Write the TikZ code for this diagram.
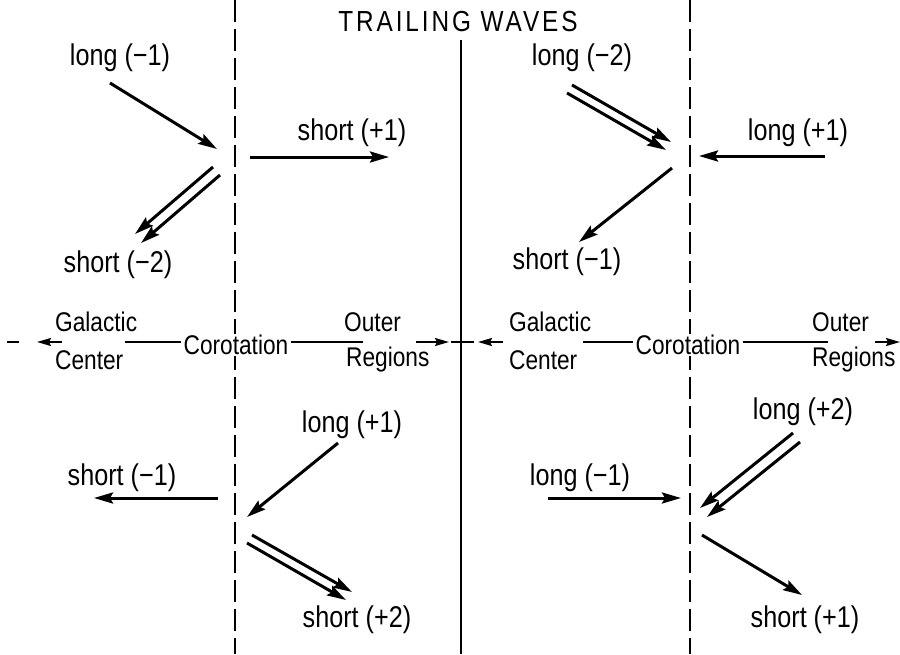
\documentclass[tikz,border=0pt]{standalone}
\usepackage{fontspec}
\setmainfont{Liberation Sans}[FakeStretch=0.84]
\usetikzlibrary{arrows.meta}
\begin{document}
\begin{tikzpicture}[x=1pt,y=-1pt,
  lbl/.style={font=\fontsize{30}{32}\selectfont, inner sep=1pt},
  axl/.style={font=\fontsize{27}{29}\selectfont, inner sep=1pt},
  ttl/.style={font=\fontsize{29}{31}\selectfont\addfontfeature{LetterSpace=10}, inner sep=1pt},
  arr/.style={line width=3pt, -{Stealth[length=19pt,width=11pt,inset=3pt]}},
  axarr/.style={line width=2pt, -{Stealth[length=14pt,width=8pt,inset=2pt]}},
  axline/.style={line width=2pt},
  corot/.style={line width=2pt, dash pattern=on 22pt off 7pt},
  midline/.style={line width=2pt}]
\useasboundingbox (0,0) rectangle (900,654);

% vertical lines
\coordinate (dl1t) at (235,0);   \coordinate (dl1b) at (235,654);
\coordinate (dl2t) at (690,0);   \coordinate (dl2b) at (690,654);
\coordinate (mlt) at (461,40);   \coordinate (mlb) at (461,654);
\draw[corot] (dl1t) -- (dl1b);
\draw[corot] (dl2t) -- (dl2b);
\draw[midline] (mlt) -- (mlb);

% title
\node[ttl] (title) at (458,22) {TRAILING WAVES};

% axis labels
\node[axl, anchor=west] (gal1) at (54,322) {Galactic};
\node[axl, anchor=west] (cen1) at (54,360) {Center};
\node[axl, fill=white, inner xsep=2pt] (cor1) at (236,345) {Corotation};
\node[axl, anchor=west] (out1) at (343,322) {Outer};
\node[axl, anchor=west] (reg1) at (345,360) {Regions};
\node[axl, anchor=west] (gal2) at (508,322) {Galactic};
\node[axl, anchor=west] (cen2) at (508,360) {Center};
\node[axl, fill=white, inner xsep=2pt] (cor2) at (688,345) {Corotation};
\node[axl, anchor=west] (out2) at (811,322) {Outer};
\node[axl, anchor=west] (reg2) at (811,360) {Regions};

% axis lines
\coordinate (a1) at (7,342);   \coordinate (a2) at (19,342);
\coordinate (a3) at (62,342);  \coordinate (a4) at (37,342);
\coordinate (a5) at (125,342); \coordinate (a6) at (cor1.west |- 0,342);
\coordinate (a7) at (cor1.east |- 0,342); \coordinate (a8) at (363,342);
\coordinate (a9) at (416,342); \coordinate (a10) at (449,342);
\coordinate (a11) at (451,342); \coordinate (a12) at (474,342);
\coordinate (a13) at (503,342); \coordinate (a14) at (478,342);
\coordinate (a15) at (583,342); \coordinate (a16) at (cor2.west |- 0,342);
\coordinate (a17) at (cor2.east |- 0,342); \coordinate (a18) at (828,342);
\coordinate (a19) at (875,342); \coordinate (a20) at (900,342);
\draw[axline] (a1) -- (a2);
\draw[axarr] (a3) -- (a4);
\draw[axline] (a5) -- (a6);
\draw[axline] (a7) -- (a8);
\draw[axarr] (a9) -- (a10);
\draw[axline] (a11) -- (a12);
\draw[axarr] (a13) -- (a14);
\draw[axline] (a15) -- (a16);
\draw[axline] (a17) -- (a18);
\draw[axarr] (a19) -- (a20);

% ---------- upper left ----------
\node[lbl] (ul1) at (120,58) {long (−1)};
\node[lbl] (us1) at (352,133) {short (+1)};
\node[lbl] (us2) at (118,265) {short (−2)};
\coordinate (p1) at (110,83);  \coordinate (p2) at (217,149);
\coordinate (p3) at (250,157); \coordinate (p4) at (389,157);
\coordinate (p5) at (213,167); \coordinate (p6) at (135,234);
\coordinate (p7) at (220,175); \coordinate (p8) at (141,243);
\draw[arr] (p1) -- (p2);
\draw[arr] (p3) -- (p4);
\draw[arr] (p5) -- (p6);
\draw[arr] (p7) -- (p8);

% ---------- upper right ----------
\node[lbl] (ul2) at (582,58) {long (−2)};
\node[lbl] (ul3) at (798,133) {long (+1)};
\node[lbl] (us3) at (567,262) {short (−1)};
\coordinate (q1) at (572,85);  \coordinate (q2) at (671,142);
\coordinate (q3) at (567,93);  \coordinate (q4) at (666,150);
\coordinate (q5) at (825,156); \coordinate (q6) at (699,156);
\coordinate (q7) at (672,168); \coordinate (q8) at (579,242);
\draw[arr] (q1) -- (q2);
\draw[arr] (q3) -- (q4);
\draw[arr] (q5) -- (q6);
\draw[arr] (q7) -- (q8);

% ---------- lower left ----------
\node[lbl] (ll1) at (352,425) {long (+1)};
\node[lbl] (ls1) at (122,478) {short (−1)};
\node[lbl] (ls2) at (357,620) {short (+2)};
\coordinate (r1) at (338,443); \coordinate (r2) at (247,517);
\coordinate (r3) at (218,498); \coordinate (r4) at (94,498);
\coordinate (r5) at (252,535); \coordinate (r6) at (352,592);
\coordinate (r7) at (247,543); \coordinate (r8) at (346,600);
\draw[arr] (r1) -- (r2);
\draw[arr] (r3) -- (r4);
\draw[arr] (r5) -- (r6);
\draw[arr] (r7) -- (r8);

% ---------- lower right ----------
\node[lbl] (ll2) at (803,412) {long (+2)};
\node[lbl] (ll3) at (580,478) {long (−1)};
\node[lbl] (ls3) at (805,620) {short (+1)};
\coordinate (s1) at (793,433); \coordinate (s2) at (700,508);
\coordinate (s3) at (800,442); \coordinate (s4) at (707,517);
\coordinate (s5) at (548,498); \coordinate (s6) at (681,498);
\coordinate (s7) at (702,535); \coordinate (s8) at (802,595);
\draw[arr] (s1) -- (s2);
\draw[arr] (s3) -- (s4);
\draw[arr] (s5) -- (s6);
\draw[arr] (s7) -- (s8);
\end{tikzpicture}
\end{document}
